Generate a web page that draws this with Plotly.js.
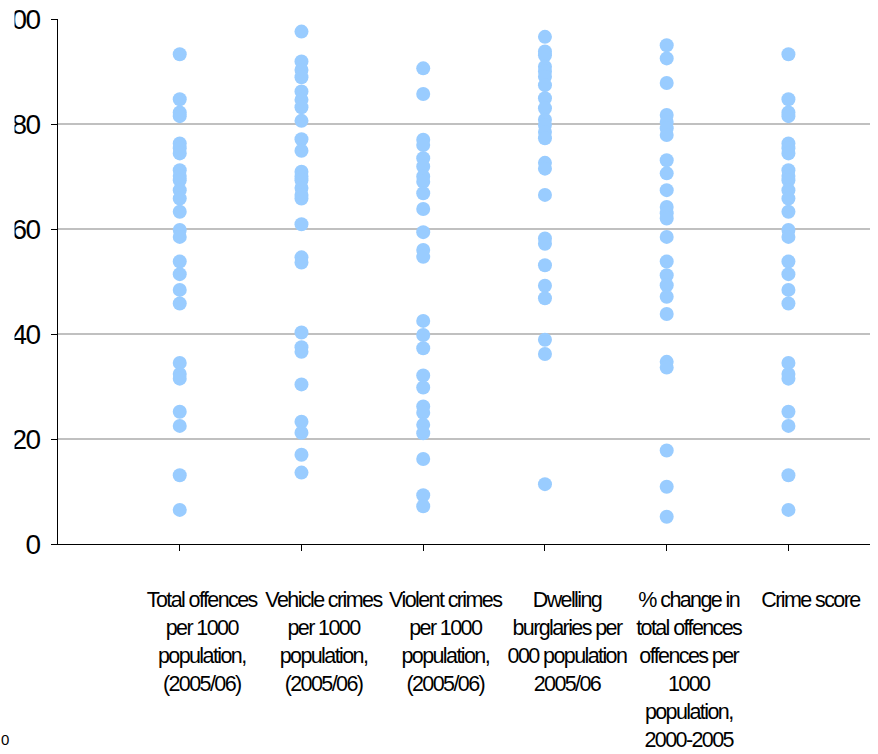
<!DOCTYPE html>
<html>
<head>
<meta charset="utf-8">
<script src="https://cdn.plot.ly/plotly-3.0.1.min.js"></script>
<style>
html,body{margin:0;padding:0;background:#fff;}
#chart{width:878px;height:754px;}
#chart .xtick text{letter-spacing:-1.6px;}
#chart .ytick text{letter-spacing:-1.6px;}
</style>
</head>
<body>
<div id="chart"></div>
<script>
const categories = [
  "Total offences<br>per 1000<br>population,<br>(2005/06)",
  "Vehicle crimes<br>per 1000<br>population,<br>(2005/06)",
  "Violent crimes<br>per 1000<br>population,<br>(2005/06)",
  "Dwelling<br>burglaries per<br>000 population<br>2005/06",
  "% change in<br>total offences<br>offences per<br>1000<br>population,<br>2000-2005",
  "Crime score"
];
const totalOffences = [93.3, 84.7, 82.2, 81.5, 76.3, 75.4, 74.4, 71.2, 70.1, 69.3, 67.4, 65.8, 63.3, 59.8, 58.5, 53.8, 51.4, 48.4, 45.8, 34.5, 32.4, 31.5, 25.2, 22.5, 13.1, 6.5];
const vehicleCrimes = [97.6, 91.9, 90.3, 88.9, 86.2, 84.6, 83.2, 80.6, 77.1, 74.9, 70.9, 70.0, 69.3, 67.8, 66.5, 65.8, 60.9, 54.6, 53.6, 40.3, 37.5, 36.6, 30.4, 23.3, 21.2, 17.0, 13.6];
const violentCrimes = [90.6, 85.7, 77.0, 76.0, 73.5, 71.9, 70.0, 69.0, 66.8, 63.8, 59.4, 56.0, 54.7, 42.5, 39.8, 37.3, 32.1, 29.8, 26.2, 25.0, 22.7, 21.1, 16.2, 9.3, 7.2];
const dwellingBurglaries = [96.6, 93.8, 93.1, 90.9, 90.0, 89.0, 87.4, 84.9, 83.0, 80.8, 79.8, 78.5, 77.3, 72.6, 71.5, 66.5, 58.2, 57.2, 53.1, 49.2, 46.8, 38.9, 36.2, 11.4];
const pctChange = [95.0, 92.5, 87.8, 81.7, 80.4, 79.2, 77.9, 73.1, 70.6, 67.4, 64.2, 63.0, 62.0, 58.5, 53.8, 51.2, 49.3, 47.1, 43.8, 34.7, 33.6, 17.8, 10.9, 5.2];
const crimeScore = [93.3, 84.7, 82.2, 81.5, 76.3, 75.4, 74.4, 71.2, 70.1, 69.3, 67.4, 65.8, 63.3, 59.8, 58.5, 53.8, 51.4, 48.4, 45.8, 34.5, 32.4, 31.5, 25.2, 22.5, 13.1, 6.5];
const yTicks = [0, 20, 40, 60, 80, 100];

const series = [totalOffences, vehicleCrimes, violentCrimes, dwellingBurglaries, pctChange, crimeScore];
const positions = categories.map((c, i) => i + 1);

const traces = series.map((vals, i) => ({
  type: 'scatter',
  mode: 'markers',
  x: vals.map(() => positions[i]),
  y: vals,
  marker: {color: '#99CCFF', size: 14, line: {width: 0}},
  showlegend: false,
  hoverinfo: 'y'
}));

const font = '"Liberation Sans", Arial, sans-serif';

const layout = {
  width: 878, height: 754,
  margin: {l: 58, r: 8, t: 19, b: 210},
  paper_bgcolor: '#ffffff', plot_bgcolor: '#ffffff',
  showlegend: false,
  xaxis: {
    type: 'linear', range: [0, 6.67],
    tickmode: 'array', tickvals: positions, ticktext: categories,
    showgrid: false, zeroline: false,
    showline: true, linecolor: '#000000', linewidth: 1,
    ticks: 'outside', ticklen: 6, tickcolor: '#000000', tickwidth: 1,
    ticklabelstandoff: 30,
    ticklabelshift: 22,
    tickangle: 0,
    tickfont: {family: font, size: 21.5, color: '#000000'}
  },
  yaxis: {
    range: [0, 100],
    tickmode: 'array', tickvals: yTicks,
    showgrid: true, gridcolor: '#C0C0C0', gridwidth: 2,
    zeroline: false,
    showline: true, linecolor: '#000000', linewidth: 1,
    ticks: 'outside', ticklen: 6, tickcolor: '#000000', tickwidth: 1,
    ticklabelstandoff: 6,
    tickfont: {family: font, size: 28, color: '#000000'}
  },
  shapes: [{
    type: 'rect', xref: 'paper', yref: 'paper', layer: 'above',
    x0: -0.1, x1: -0.0535, y0: -0.03, y1: 1.06,
    fillcolor: '#ffffff', line: {width: 0}
  }],
  annotations: [{
    xref: 'paper', yref: 'paper', x: -0.065, y: -0.373,
    xanchor: 'center', yanchor: 'middle', showarrow: false,
    text: '0', font: {family: font, size: 15, color: '#000000'}
  }]
};

Plotly.newPlot('chart', traces, layout, {displayModeBar: false, staticPlot: true});
</script>
</body>
</html>
